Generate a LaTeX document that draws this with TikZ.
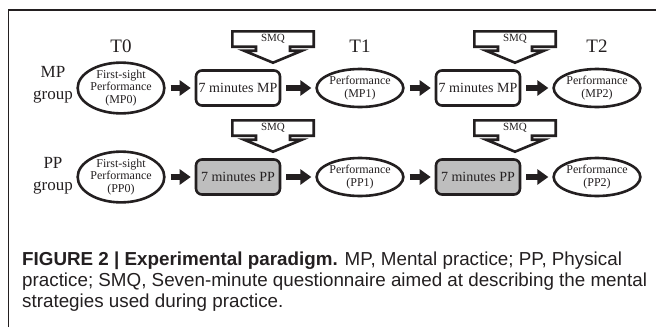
\documentclass[tikz,border=0pt]{standalone}
\usepackage{fontspec}
\setmainfont{Liberation Serif}
\newfontfamily\capfont{Liberation Sans}
\usetikzlibrary{shapes.geometric,arrows.meta,calc,backgrounds}
\definecolor{ink}{HTML}{231F20}
\definecolor{ppgray}{HTML}{BEBEBE}
\begin{document}
\begin{tikzpicture}[x=1pt,y=-1pt,
  ell/.style={ellipse, draw=ink, line width=2.6pt, minimum width=71pt, minimum height=38pt,
    inner sep=0pt, align=center, font=\fontsize{12}{12.5}\selectfont, text=ink},
  boxn/.style={rectangle, rounded corners=6pt, draw=ink, line width=2.6pt, minimum width=84pt,
    minimum height=35pt, inner sep=0pt, font=\fontsize{14}{16}\selectfont, text=ink},
  ppbox/.style={boxn, fill=ppgray},
  blk/.style={draw=ink, line width=6.5pt, -{Triangle[length=11pt 0 0,width=15pt 0 0]},
    shorten <=5pt, shorten >=4pt},
  smqtext/.style={rectangle, minimum width=81pt, minimum height=15pt, inner sep=0pt,
    font=\fontsize{11}{12}\selectfont, text=ink},
  smqline/.style={draw=ink, fill=white, line width=2.6pt, line join=miter},
  tlabel/.style={font=\fontsize{19}{21}\selectfont, text=ink},
  glabel/.style={font=\fontsize{17}{22}\selectfont, align=center, text=ink},
  caption/.style={anchor=north west, align=left, inner sep=0pt, text=ink,
    font=\capfont\fontsize{18.8}{21}\selectfont}
]
\useasboundingbox (0,0) rectangle (656,327);
\draw[ink, line width=1.2pt] (8.5,327) -- (8.5,10) -- (656,10);

% labels
\node[tlabel] (t0) at (121,46) {T0};
\node[tlabel] (t1) at (360,46) {T1};
\node[tlabel] (t2) at (597,46) {T2};
\node[glabel] (gmp) at (53,85) {MP\\group};
\node[glabel] (gpp) at (53,176) {PP\\group};

% MP row
\node[ell] (e0) at (121,88) {First-sight\\Performance\\(MP0)};
\node[boxn] (b1) at (238,88) {7 minutes MP};
\node[ell] (e1) at (360,88) {Performance\\(MP1)};
\node[boxn] (b2) at (478,88) {7 minutes MP};
\node[ell] (e2) at (597,88) {Performance\\(MP2)};
\draw[blk] (e0) -- (b1);
\draw[blk] (b1) -- (e1);
\draw[blk] (e1) -- (b2);
\draw[blk] (b2) -- (e2);

% PP row
\node[ell] (f0) at (121,177) {First-sight\\Performance\\(PP0)};
\node[ppbox] (c1) at (238,177) {7 minutes PP};
\node[ell] (f1) at (360,177) {Performance\\(PP1)};
\node[ppbox] (c2) at (478,177) {7 minutes PP};
\node[ell] (f2) at (597,177) {Performance\\(PP2)};
\draw[blk] (f0) -- (c1);
\draw[blk] (c1) -- (f1);
\draw[blk] (f1) -- (c2);
\draw[blk] (c2) -- (f2);

% SMQ callouts
\foreach \s/\x/\y in {s1/273/39, s2/515/39, s3/273/128, s4/515/128}{
  \node[smqtext] (\s) at (\x,\y) {SMQ};
  \begin{scope}[on background layer]
    \draw[smqline] (\s.north west) -- (\s.north east) -- (\s.south east)
      -- ($(\s.south)+(17,0)$) -- ++(0,4) -- ++(12,0) -- ($(\s.south)+(0,16)$)
      -- ($(\s.south)+(-29,4)$) -- ++(12,0) -- ++(0,-4) -- (\s.south west) -- cycle;
  \end{scope}
}

% caption
\node[caption] (cap) at (22,252) {\textbf{FIGURE 2 | Experimental paradigm.} MP, Mental practice; PP, Physical\\
practice; SMQ, Seven-minute questionnaire aimed at describing the mental\\
strategies used during practice.};
\end{tikzpicture}
\end{document}
